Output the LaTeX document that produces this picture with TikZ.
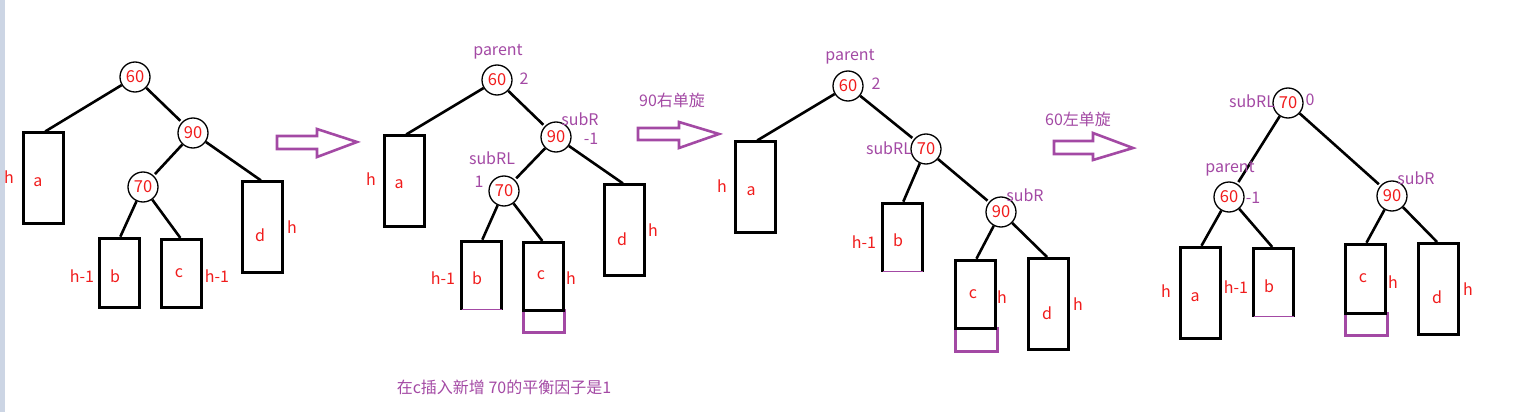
\documentclass[tikz,border=0pt]{standalone}
\usepackage{fontspec}
\setmainfont{Noto Sans CJK SC}
\newfontfamily\cjk{Noto Sans CJK SC}
\definecolor{rd}{HTML}{F01C1C}
\definecolor{pp}{HTML}{A349A4}
\definecolor{strip}{HTML}{CCD5E4}
\begin{document}
\begin{tikzpicture}[x=1pt,y=-1pt,
  nd/.style={circle,draw,line width=1.3pt,minimum size=30pt,inner sep=0pt,text=rd,font=\fontsize{16.5}{16.5}\selectfont},
  bxo/.style={minimum width=40pt,inner sep=0pt,outer sep=0pt},
  boxline/.style={line width=3pt,line join=miter},
  pline/.style={draw=pp,line width=3pt},
  lbl/.style={text=rd,inner sep=0pt,font=\fontsize{16}{16}\selectfont},
  plb/.style={text=pp,inner sep=0pt,font=\fontsize{16}{16}\selectfont},
  edge/.style={line width=2.6pt,shorten >=2pt},
  harrow/.style={draw=pp,line width=2.6pt,line join=miter}
]
\useasboundingbox (0,0) rectangle (1513,412);
\fill[strip] (0,0) rectangle (5,412);

% ---------- Tree 1 ----------
\node[nd] (t1n60) at (135,77) {60};
\node[nd] (t1n90) at (193,133) {90};
\node[nd] (t1n70) at (143,187) {70};
\node[bxo,minimum height=91pt] (t1a) at (43.5,178) {};
\node[bxo,minimum height=69pt] (t1b) at (119.5,273) {};
\node[bxo,minimum height=68pt] (t1c) at (181.5,273.5) {};
\node[bxo,minimum height=91pt] (t1d) at (262.5,227) {};
\draw[boxline] (t1a.south west) rectangle (t1a.north east);
\draw[boxline] (t1b.south west) rectangle (t1b.north east);
\draw[boxline] (t1c.south west) rectangle (t1c.north east);
\draw[boxline] (t1d.south west) rectangle (t1d.north east);
\draw[edge] (t1n60) -- (t1a.north);
\draw[edge] (t1n60) -- (t1n90);
\draw[edge] (t1n90) -- (t1n70);
\draw[edge] (t1n90) -- (t1d.north);
\draw[edge] (t1n70) -- (t1b.north);
\draw[edge] (t1n70) -- (t1c.north);
\node[lbl] (t1h1) at (9,177) {h};
\node[lbl] (t1la) at (38,182) {a};
\node[lbl] (t1h2) at (82,276) {h-1};
\node[lbl] (t1lb) at (115,276) {b};
\node[lbl] (t1lc) at (179,273) {c};
\node[lbl] (t1h3) at (217,276) {h-1};
\node[lbl] (t1ld) at (260,235) {d};
\node[lbl] (t1h4) at (292,227) {h};

% arrow 1
\draw[harrow] (277,136) -- (317,136) -- (317,129) -- (357,142) -- (317,157) -- (317,149) -- (277,149) -- cycle;

% ---------- Tree 2 ----------
\node[nd] (t2n60) at (497,80) {60};
\node[nd] (t2n90) at (556,137) {90};
\node[nd] (t2n70) at (504,191) {70};
\node[bxo,minimum height=91pt] (t2a) at (404.5,181) {};
\node[bxo,minimum height=68pt] (t2b) at (481.5,275.5) {};
\node[bxo,minimum width=41pt,minimum height=22pt] (t2p) at (544,321.5) {};
\node[bxo,minimum height=68pt] (t2c) at (543.5,276.5) {};
\node[bxo,minimum height=91pt] (t2d) at (624.5,230) {};
\draw[pline] (t2p.south west) rectangle (t2p.north east);
\draw[boxline] (t2a.south west) rectangle (t2a.north east);
\draw[boxline] (t2b.south west) -- (t2b.north west) -- (t2b.north east) -- (t2b.south east);
\draw[pp,line width=1.3pt] (t2b.south west) -- (t2b.south east);
\draw[boxline] (t2c.south west) rectangle (t2c.north east);
\draw[boxline] (t2d.south west) rectangle (t2d.north east);
\draw[edge] (t2n60) -- (t2a.north);
\draw[edge] (t2n60) -- (t2n90);
\draw[edge] (t2n90) -- (t2n70);
\draw[edge] (t2n90) -- (t2d.north);
\draw[edge] (t2n70) -- (t2b.north);
\draw[edge] (t2n70) -- (t2c.north);
\node[plb] (t2par) at (498,52) {parent};
\node[plb] (t2bf60) at (524,79) {2};
\node[plb] (t2sr) at (580,119) {subR};
\node[plb] (t2bf90) at (591,139) {-1};
\node[plb] (t2srl) at (492,158) {subRL};
\node[plb] (t2bf70) at (479,182) {1};
\node[lbl] (t2h1) at (371,179) {h};
\node[lbl] (t2la) at (399,184) {a};
\node[lbl] (t2h2) at (443,278) {h-1};
\node[lbl] (t2lb) at (477,278) {b};
\node[lbl] (t2lc) at (541,275) {c};
\node[lbl] (t2h3) at (571,278) {h};
\node[lbl] (t2ld) at (622,239) {d};
\node[lbl] (t2h4) at (653,230) {h};

% arrow 2
\node[plb] (ar2t) at (672,100) {\cjk 90右单旋};
\draw[harrow] (638,128) -- (679,128) -- (679,122) -- (719,134) -- (679,148) -- (679,140) -- (638,140) -- cycle;

% ---------- Tree 3 ----------
\node[nd] (t3n60) at (848,86) {60};
\node[nd] (t3n70) at (926,149) {70};
\node[nd] (t3n90) at (1001,212) {90};
\node[bxo,minimum height=91pt] (t3a) at (755.5,187) {};
\node[bxo,minimum height=68pt] (t3b) at (902.5,237.5) {};
\node[bxo,minimum width=42pt,minimum height=23pt] (t3p) at (976,340) {};
\node[bxo,minimum height=68pt] (t3c) at (975.5,294.5) {};
\node[bxo,minimum height=91pt] (t3d) at (1048.5,304) {};
\draw[pline] (t3p.south west) rectangle (t3p.north east);
\draw[boxline] (t3a.south west) rectangle (t3a.north east);
\draw[boxline] (t3b.south west) -- (t3b.north west) -- (t3b.north east) -- (t3b.south east);
\draw[pp,line width=1.3pt] (t3b.south west) -- (t3b.south east);
\draw[boxline] (t3c.south west) rectangle (t3c.north east);
\draw[boxline] (t3d.south west) rectangle (t3d.north east);
\draw[edge] (t3n60) -- (t3a.north);
\draw[edge] (t3n60) -- (t3n70);
\draw[edge] (t3n70) -- (t3b.north);
\draw[edge] (t3n70) -- (t3n90);
\draw[edge] (t3n90) -- (t3c.north);
\draw[edge] (t3n90) -- (t3d.north);
\node[plb] (t3par) at (850,57) {parent};
\node[plb] (t3bf60) at (876,84) {2};
\node[plb] (t3srl) at (889,148) {subRL};
\node[plb] (t3sr) at (1025,195) {subR};
\node[lbl] (t3h1) at (722,186) {h};
\node[lbl] (t3la) at (751,191) {a};
\node[lbl] (t3h2) at (864,242) {h-1};
\node[lbl] (t3lb) at (898,240) {b};
\node[lbl] (t3lc) at (973,294) {c};
\node[lbl] (t3h3) at (1002,297) {h};
\node[lbl] (t3ld) at (1047,313) {d};
\node[lbl] (t3h4) at (1078,304) {h};

% arrow 3
\node[plb] (ar3t) at (1078,119) {\cjk 60左单旋};
\draw[harrow] (1054,141) -- (1093,141) -- (1093,133) -- (1133,148) -- (1093,160) -- (1093,154) -- (1054,154) -- cycle;

% ---------- Tree 4 ----------
\node[nd] (t4n70) at (1288,103) {70};
\node[nd] (t4n60) at (1229,197) {60};
\node[nd] (t4n90) at (1392,196) {90};
\node[bxo,minimum height=91pt] (t4a) at (1200.5,293) {};
\node[bxo,minimum height=68pt] (t4b) at (1273.5,282.5) {};
\node[bxo,minimum width=42pt,minimum height=22pt] (t4p) at (1366,324.5) {};
\node[bxo,minimum height=69pt] (t4c) at (1365.5,279) {};
\node[bxo,minimum height=91pt] (t4d) at (1438.5,289) {};
\draw[pline] (t4p.south west) rectangle (t4p.north east);
\draw[boxline] (t4a.south west) rectangle (t4a.north east);
\draw[boxline] (t4b.south west) -- (t4b.north west) -- (t4b.north east) -- (t4b.south east);
\draw[pp,line width=1.3pt] (t4b.south west) -- (t4b.south east);
\draw[boxline] (t4c.south west) rectangle (t4c.north east);
\draw[boxline] (t4d.south west) rectangle (t4d.north east);
\draw[edge] (t4n70) -- (t4n60);
\draw[edge] (t4n70) -- (t4n90);
\draw[edge] (t4n60) -- (t4a.north);
\draw[edge] (t4n60) -- (t4b.north);
\draw[edge] (t4n90) -- (t4c.north);
\draw[edge] (t4n90) -- (t4d.north);
\node[plb] (t4srl) at (1252,101) {subRL};
\node[plb] (t4bf70) at (1310,100) {0};
\node[plb] (t4par) at (1230,169) {parent};
\node[plb] (t4bf60) at (1253,198) {-1};
\node[plb] (t4sr) at (1416,178) {subR};
\node[lbl] (t4h1) at (1166,291) {h};
\node[lbl] (t4la) at (1195,297) {a};
\node[lbl] (t4h2) at (1236,287) {h-1};
\node[lbl] (t4lb) at (1269,286) {b};
\node[lbl] (t4lc) at (1363,278) {c};
\node[lbl] (t4h3) at (1393,282) {h};
\node[lbl] (t4ld) at (1437,297) {d};
\node[lbl] (t4h4) at (1468,289) {h};

% bottom note
\node[plb] (note) at (504,387) {\cjk 在c插入新增 70的平衡因子是1};
\end{tikzpicture}
\end{document}
